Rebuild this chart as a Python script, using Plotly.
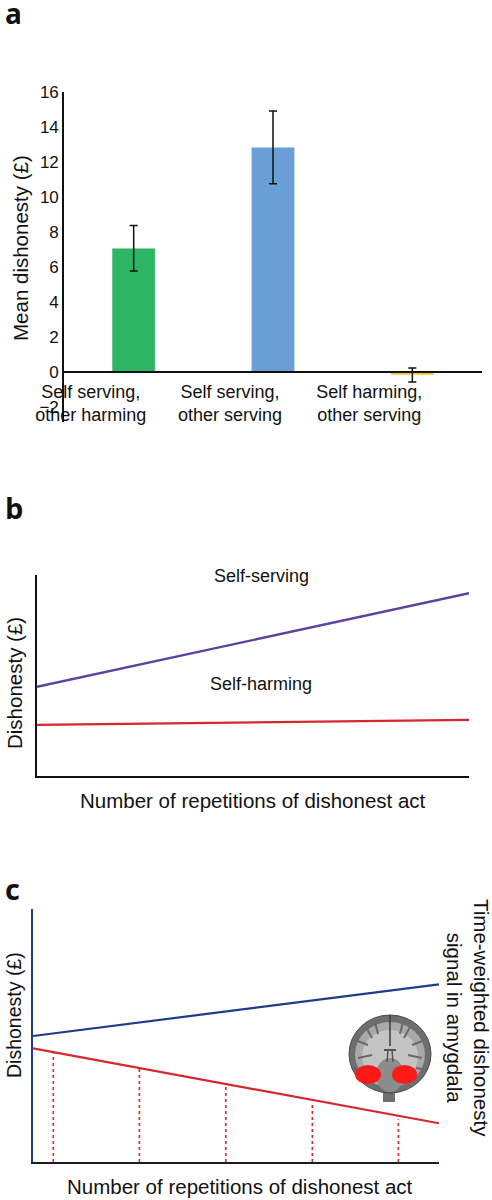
import plotly.graph_objects as go

W, H = 492, 1200

# ---------- data ----------
# Panel a
cat_labels = ["Self serving,<br>other harming", "Self serving,<br>other serving", "Self harming,<br>other serving"]
cat_pos = [0, 1, 2]
mean_dishonesty = [7.07, 12.84, -0.17]
mean_err = [1.30, 2.08, 0.40]
bar_colors = ["#2DB564", "#6A9FD5", "#F5CC35"]
a_ticks = [-2, 0, 2, 4, 6, 8, 10, 12, 14, 16]

# Panel b
b_x = [0, 10]
b_self_serving = [4.44, 9.09]
b_self_harming = [2.54, 2.79]

# Panel c
c_x = [0, 10]
c_dishonesty = [4.98, 7.02]
c_amygdala = [4.49, 1.53]
c_drop_x = [0.5, 2.62, 4.75, 6.88, 9.0]
c_drop_top = [4.30, 3.70, 2.98, 2.32, 1.69]

FONT = "Liberation Sans, Arial, Helvetica, sans-serif"
BOLD = "Open Sans, Arial, sans-serif"
PURPLE = "#5B41A0"
RED = "#D7262D"
BLUE = "#1F3B8C"


def px(x):
    return x / W


def py(y):
    return 1 - y / H


fig = go.Figure()

# ---- panel a ----
fig.add_trace(go.Bar(
    x=cat_pos, y=mean_dishonesty, marker_color=bar_colors, width=0.31,
    error_y=dict(type="data", array=mean_err, color="#111111", thickness=1.5, width=4),
    xaxis="x", yaxis="y", showlegend=False,
))

a_yr = [-2.85, 16]
a_dom = [py(422), py(92)]
zero_pos = a_dom[0] + (0 - a_yr[0]) / (a_yr[1] - a_yr[0]) * (a_dom[1] - a_dom[0])

# ---- panel b ----
fig.add_trace(go.Scatter(x=b_x, y=b_self_serving, mode="lines",
                         line=dict(color=PURPLE, width=2.4), xaxis="x2", yaxis="y2", showlegend=False))
fig.add_trace(go.Scatter(x=b_x, y=b_self_harming, mode="lines",
                         line=dict(color=RED, width=2.2), xaxis="x2", yaxis="y2", showlegend=False))

# ---- panel c ----
drop_x, drop_y = [], []
for xv, top in zip(c_drop_x, c_drop_top):
    drop_x += [xv, xv, None]
    drop_y += [0, top, None]
fig.add_trace(go.Scatter(x=drop_x, y=drop_y, mode="lines",
                         line=dict(color=RED, width=1.6, dash="dot"), xaxis="x3", yaxis="y3", showlegend=False))
fig.add_trace(go.Scatter(x=c_x, y=c_dishonesty, mode="lines",
                         line=dict(color=BLUE, width=2.2), xaxis="x3", yaxis="y3", showlegend=False))
fig.add_trace(go.Scatter(x=c_x, y=c_amygdala, mode="lines",
                         line=dict(color=RED, width=2.2), xaxis="x3", yaxis="y3", showlegend=False))

noax = dict(showgrid=False, zeroline=False, showticklabels=False, ticks="", automargin=False)

fig.update_layout(
    width=W, height=H, margin=dict(l=0, r=0, t=0, b=0, autoexpand=False),
    paper_bgcolor="white", plot_bgcolor="rgba(0,0,0,0)",
    font=dict(family=FONT, color="#111111"),
    xaxis=dict(domain=[px(64), px(482)], range=[-0.5, 2.5], anchor="free", position=zero_pos,
               showline=True, linecolor="#111111", linewidth=1.6, showgrid=False, zeroline=False,
               ticks="", tickvals=cat_pos, ticktext=cat_labels, ticklabelshift=-43, ticklabelstandoff=3,
               automargin=False, tickfont=dict(size=18, family=FONT, color="#111111")),
    yaxis=dict(domain=a_dom, range=a_yr, anchor="x", showline=True, linecolor="#111111", linewidth=1.6,
               showgrid=False, zeroline=False, ticks="", tickvals=a_ticks, automargin=False,
               tickfont=dict(size=17, family=FONT, color="#111111")),
    xaxis2=dict(domain=[px(37), px(469)], range=[0, 10], anchor="y2", showline=True,
                linecolor="#111111", linewidth=1.6, **noax),
    yaxis2=dict(domain=[py(776), py(575)], range=[0, 10], anchor="x2", showline=True,
                linecolor="#111111", linewidth=1.6, **noax),
    xaxis3=dict(domain=[px(33), px(439)], range=[0, 10], anchor="y3", showline=True,
                linecolor="#1a1a2e", linewidth=1.8, **noax),
    yaxis3=dict(domain=[py(1162), py(909)], range=[0, 10], anchor="x3", showline=True,
                linecolor=BLUE, linewidth=2.2, **noax),
    yaxis4=dict(domain=[py(1162), py(909)], range=[0, 10], anchor="x3", overlaying="y3", side="right",
                showline=True, linecolor=RED, linewidth=2.2, **noax),
)

ann = []


def txt(text, x, y, size, angle=0, xref="paper", yref="paper", bold=False, xa="center", ya="middle"):
    ann.append(dict(text=text, x=x, y=y, xref=xref, yref=yref, showarrow=False, textangle=angle,
                    xanchor=xa, yanchor=ya,
                    font=dict(size=size, family=BOLD if bold else FONT, color="#111111")))


# panel letters
txt("<b>a</b>", px(3), py(13), 28, bold=True, xa="left")
txt("<b>b</b>", px(3), py(507), 29, bold=True, xa="left")
txt("<b>c</b>", px(3), py(888), 29, bold=True, xa="left")

# axis titles
txt("Mean dishonesty (£)", px(20), py(248), 20.5, angle=-90)
txt("Dishonesty (£)", px(14), py(683), 20.5, angle=-90)
txt("Number of repetitions of dishonest act", px(253), py(800), 20.5)
txt("Dishonesty (£)", px(14), py(1015), 19.5, angle=-90)
txt("Number of repetitions of dishonest act", px(240), py(1186), 20.5)
txt("Time-weighted dishonesty<br>signal in amygdala", px(468), py(1018), 20.5, angle=90)

# in-plot labels panel b
txt("Self-serving", 5.19, 9.95, 18, xref="x2", yref="y2")
txt("Self-harming", 5.19, 4.58, 18, xref="x2", yref="y2")

fig.update_layout(annotations=ann)

# ---- brain inset (decorative) ----
shapes = []


def ell(x0, y0, x1, y1, fill, line=None, lw=0):
    shapes.append(dict(type="circle", xref="paper", yref="paper", x0=px(x0), x1=px(x1), y0=py(y1), y1=py(y0),
                       fillcolor=fill, line=dict(color=line or fill, width=lw), layer="above"))


def rect(x0, y0, x1, y1, fill):
    shapes.append(dict(type="rect", xref="paper", yref="paper", x0=px(x0), x1=px(x1), y0=py(y1), y1=py(y0),
                       fillcolor=fill, line=dict(width=0), layer="above"))


def seg(x0, y0, x1, y1, color, lw):
    shapes.append(dict(type="line", xref="paper", yref="paper", x0=px(x0), x1=px(x1), y0=py(y0), y1=py(y1),
                       line=dict(color=color, width=lw), layer="above"))


rect(383, 1080, 395, 1102, "#6f6f6f")
ell(349, 1015, 431, 1093, "#6e6e6e", "#4a4a4a", 1)
ell(355, 1022, 425, 1087, "#a9a9a9")
ell(362, 1030, 418, 1082, "#c4c4c4")
# gyri
for (x0, y0, x1, y1) in [(355, 1040, 368, 1045), (358, 1058, 372, 1055), (412, 1045, 425, 1040),
                         (408, 1055, 422, 1058), (366, 1027, 372, 1038), (410, 1027, 404, 1038),
                         (353, 1070, 364, 1068), (416, 1068, 427, 1070), (375, 1022, 378, 1034),
                         (403, 1022, 400, 1034)]:
    seg(x0, y0, x1, y1, "#6a6a6a", 2)
seg(390, 1015, 390, 1046, "#3c3c3c", 1.5)
ell(376, 1058, 404, 1092, "#8c8c8c")
seg(384, 1050, 396, 1050, "#555555", 2)
seg(388, 1050, 387, 1062, "#555555", 1.5)
seg(392, 1050, 393, 1062, "#555555", 1.5)
ell(355, 1065, 381, 1084, "#FF1A1A")
ell(392, 1065, 417, 1084, "#FF1A1A")

fig.update_layout(shapes=shapes)

fig.write_html(
    "out.html",
    config={"displayModeBar": False},
    post_script="document.body.style.margin='0';document.documentElement.style.overflow='hidden';",
)
